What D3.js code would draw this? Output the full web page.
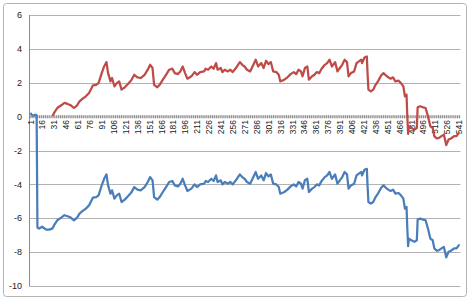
<!DOCTYPE html>
<html>
<head>
<meta charset="utf-8">
<script src="https://cdn.jsdelivr.net/npm/d3@7"></script>
<style>
    body { margin: 0; background: #ffffff; }
    text { font-family: "Liberation Sans", Arial, sans-serif; fill: #1a1a1a; }
</style>
</head>
<body>
<script>

var days = [
    1, 3, 5, 7, 9, 10, 12, 16, 21, 25,
    29, 31, 35, 40, 44, 48, 52, 56, 60, 63,
    67, 71, 75, 80, 84, 87, 91, 94, 97, 99,
    102, 104, 107, 110, 113, 116, 120, 124, 128, 132,
    136, 140, 145, 149, 152, 155, 157, 161, 164, 168,
    172, 176, 180, 183, 187, 190, 193, 196, 199, 204,
    208, 211, 215, 220, 222, 225, 229, 232, 235, 237,
    241, 243, 246, 250, 253, 256, 260, 265, 268, 271,
    274, 278, 281, 285, 288, 292, 295, 298, 301, 304,
    307, 311, 314, 316, 321, 325, 329, 333, 336, 339,
    342, 344, 347, 350, 352, 356, 359, 362, 365, 368,
    372, 375, 378, 381, 385, 388, 391, 394, 397, 400,
    402, 405, 409, 412, 415, 418, 419, 422, 425, 426,
    427, 430, 433, 436, 439, 443, 446, 449, 452, 455,
    458, 461, 465, 468, 471, 473, 475, 476, 477, 478,
    481, 485, 488, 489, 492, 496, 499, 502, 505, 508,
    510, 513, 516, 519, 522, 524, 525, 528, 531, 535,
    538, 541, 542
];

var seriesBlue = [
    0.22, 0.1, 0.05, 0.12, 0.08, -6.55, -6.61, -6.5, -6.67, -6.67,
    -6.6, -6.41, -6.12, -5.96, -5.82, -5.88, -5.96, -6.12, -5.96, -5.73,
    -5.57, -5.43, -5.24, -4.78, -4.75, -4.65, -4.06, -3.67, -3.41, -4.06,
    -4.55, -4.35, -4.84, -4.65, -4.55, -5.04, -4.9, -4.7, -4.5, -4.16,
    -4.31, -4.35, -4.16, -3.86, -3.57, -3.76, -4.75, -4.9, -4.75, -4.45,
    -4.16, -3.86, -3.8, -4.06, -4.12, -3.96, -3.67, -4.06, -4.39, -4.25,
    -4.0, -4.16, -4.0, -3.96, -3.8, -3.86, -3.67, -3.8, -3.47, -3.86,
    -3.76, -4.0, -3.86, -3.96, -3.86, -4.0, -3.76, -3.41, -3.57, -3.67,
    -3.86, -3.96, -3.67, -3.27, -3.67, -3.47, -3.76, -3.33, -3.53, -3.41,
    -3.96, -4.0, -4.16, -4.55, -4.45, -4.31, -4.12, -4.0, -4.12, -3.86,
    -3.96, -4.25, -3.76, -3.67, -4.45, -4.25, -4.16, -4.0, -4.06, -3.8,
    -3.57, -3.47, -3.27, -3.67, -3.41, -3.96, -3.76, -3.57, -3.27, -3.41,
    -4.25, -4.06, -3.96, -3.47, -3.37, -3.27, -3.47, -3.14, -3.08, -4.16,
    -5.04, -5.14, -5.04, -4.75, -4.55, -4.2, -4.06, -4.2, -4.31, -4.39,
    -4.31, -4.55, -4.51, -4.65, -4.84, -5.43, -5.33, -6.61, -7.65, -7.2,
    -7.3, -7.39, -7.3, -6.08, -6.02, -6.08, -6.12, -6.61, -7.2, -7.3,
    -7.78, -7.92, -7.88, -7.78, -7.69, -8.08, -8.31, -7.98, -7.92, -7.78,
    -7.78, -7.59, -7.6
];

var seriesRed = [
    null, null, null, null, null, null, null, null, null, null,
    0.03, 0.22, 0.51, 0.67, 0.81, 0.75, 0.67, 0.51, 0.67, 0.9,
    1.06, 1.2, 1.39, 1.85, 1.88, 1.98, 2.57, 2.96, 3.22, 2.57,
    2.08, 2.28, 1.79, 1.98, 2.08, 1.59, 1.73, 1.93, 2.13, 2.47,
    2.32, 2.28, 2.47, 2.77, 3.06, 2.87, 1.88, 1.73, 1.88, 2.18,
    2.47, 2.77, 2.83, 2.57, 2.51, 2.67, 2.96, 2.57, 2.24, 2.38,
    2.63, 2.47, 2.63, 2.67, 2.83, 2.77, 2.96, 2.83, 3.16, 2.77,
    2.87, 2.63, 2.77, 2.67, 2.77, 2.63, 2.87, 3.22, 3.06, 2.96,
    2.77, 2.67, 2.96, 3.36, 2.96, 3.16, 2.87, 3.3, 3.1, 3.22,
    2.67, 2.63, 2.47, 2.08, 2.18, 2.32, 2.51, 2.63, 2.51, 2.77,
    2.67, 2.38, 2.87, 2.96, 2.18, 2.38, 2.47, 2.63, 2.57, 2.83,
    3.06, 3.16, 3.36, 2.96, 3.22, 2.67, 2.87, 3.06, 3.36, 3.22,
    2.38, 2.57, 2.67, 3.16, 3.26, 3.36, 3.16, 3.49, 3.55, 2.47,
    1.59, 1.49, 1.59, 1.88, 2.08, 2.43, 2.57, 2.43, 2.32, 2.24,
    2.32, 2.08, 2.12, 1.98, 1.79, 1.2, 1.3, 0.02, -1.02, -0.57,
    -0.67, -0.76, -0.67, 0.55, 0.61, 0.55, 0.51, 0.02, -0.57, -0.67,
    -1.15, -1.29, -1.25, -1.15, -1.06, -1.45, -1.68, -1.35, -1.29, -1.15,
    -1.15, -0.96, -0.97
];

var categoryCount = 543;

var yTicks = [6, 4, 2, 0, -2, -4, -6, -8, -10];

var xLabels = [
    1, 16, 31, 46, 61, 76, 91, 106, 121, 136, 151, 166, 181,
    196, 211, 226, 241, 256, 271, 286, 301, 316, 331, 346, 361,
    376, 391, 406, 421, 436, 451, 466, 481, 496, 511, 526, 541
];

var svg = d3.select("body").append("svg")
    .attr("width", 474)
    .attr("height", 301);

const plot = { left: 29.5, right: 460.5, top: 15, bottom: 286 };

var x = d3.scaleLinear()
    .domain([0, categoryCount])
    .range([plot.left, plot.right]);

var y = d3.scaleLinear()
    .domain([-10, 6])
    .range([plot.bottom, plot.top]);

// outer chart border
svg.append("rect")
    .attr("x", 3.5)
    .attr("y", 3.5)
    .attr("width", 463)
    .attr("height", 293)
    .attr("rx", 3)
    .style("fill", "#ffffff")
    .style("stroke", "#b4b4b4")
    .style("stroke-width", 1);

// horizontal gridlines
svg.selectAll("line.grid")
    .data(yTicks.filter(d => d != 0))
    .enter()
    .append("line")
    .attr("class", "grid")
    .attr("x1", plot.left)
    .attr("x2", plot.right)
    .attr("y1", d => Math.round(y(d)) + 0.5)
    .attr("y2", d => Math.round(y(d)) + 0.5)
    .style("stroke", "#b3b3b3")
    .style("stroke-width", 1);

// value axis
svg.append("line")
    .attr("x1", plot.left)
    .attr("x2", plot.left)
    .attr("y1", plot.top)
    .attr("y2", plot.bottom + 0.5)
    .style("stroke", "#8c8c8c")
    .style("stroke-width", 1);

svg.selectAll("text.yLabel")
    .data(yTicks)
    .enter()
    .append("text")
    .attr("class", "yLabel")
    .attr("x", 22)
    .attr("y", d => y(d))
    .attr("dy", "0.35em")
    .style("text-anchor", "end")
    .style("font-size", "9px")
    .text(d => d);

// category axis at zero, dense tick marks make it look dashed
svg.append("line")
    .attr("x1", plot.left)
    .attr("x2", plot.right)
    .attr("y1", y(0))
    .attr("y2", y(0))
    .style("stroke", "#8f8f8f")
    .style("stroke-width", 3)
    .style("stroke-dasharray", "1.3,0.6");

svg.selectAll("text.xLabel")
    .data(xLabels)
    .enter()
    .append("text")
    .attr("class", "xLabel")
    .attr("transform", d => `translate(${x(d) + 0.3}, ${y(0) + 3.5}) rotate(-90)`)
    .attr("dy", "0.35em")
    .style("text-anchor", "end")
    .style("font-size", "8.5px")
    .text(d => d);

var line = d3.line()
    .defined(d => d.v != null)
    .x(d => x(d.day))
    .y(d => y(d.v));

var blueData = days.map((d, i) => ({ day: d, v: seriesBlue[i] }));
var redData = days.map((d, i) => ({ day: d, v: seriesRed[i] }));

svg.append("path")
    .datum(blueData)
    .attr("d", line)
    .style("fill", "none")
    .style("stroke", "#4a7ebb")
    .style("stroke-width", 2.25)
    .style("stroke-linejoin", "round");

svg.append("path")
    .datum(redData)
    .attr("d", line)
    .style("fill", "none")
    .style("stroke", "#be4b48")
    .style("stroke-width", 2.25)
    .style("stroke-linejoin", "round");

</script>
</body>
</html>
